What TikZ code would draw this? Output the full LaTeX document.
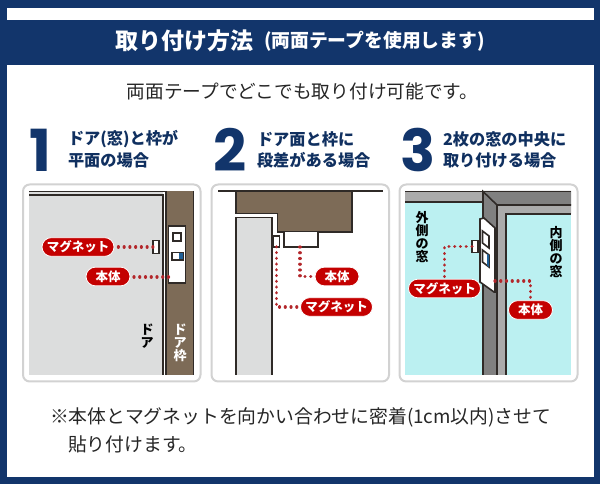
\documentclass[tikz,border=0pt]{standalone}
\usepackage{fontspec}
\setmainfont{Noto Sans CJK JP}
\newfontfamily\numf{Poppins}[BoldFont=Poppins Bold]
\usetikzlibrary{shapes.misc}
\definecolor{navy}{HTML}{12356B}
\definecolor{redpill}{HTML}{C40000}
\definecolor{brownf}{HTML}{7D6B57}
\definecolor{doorgray}{HTML}{DCDDDD}
\definecolor{ink}{HTML}{2F2A27}
\definecolor{cyanw}{HTML}{BBF0F1}
\definecolor{cardline}{HTML}{D2D2D2}
\definecolor{dotred}{HTML}{B3262A}
\definecolor{blueb}{HTML}{1F5F96}
\newcommand{\pxfont}[1]{\fontsize{\dimexpr #1pt*3/4\relax}{\dimexpr #1pt*9/10\relax}\selectfont}
\tikzset{
  card/.style={draw=cardline,line width=1.5pt,fill=white,rounded corners=5pt},
  pill/.style={rounded rectangle,fill=redpill,draw=white,line width=0.6pt,text=white,inner sep=0pt,minimum height=14pt,font=\pxfont{12.5}\bfseries},
  dots/.style={draw=dotred,line width=2.4pt,line cap=round,dash pattern=on 0.01pt off 4.3pt},
  ln/.style={draw=ink,line width=1.2pt},
  plain/.style={inner sep=0pt,outer sep=0pt},
  numb/.style={plain,font=\numf\bfseries\pxfont{58},text=navy},
  head/.style={plain,anchor=west,font=\pxfont{16.2}\bfseries,text=navy!90!black},
  vert/.style={plain,align=center,font=\fontsize{9.75pt}{9.8pt}\selectfont\bfseries},
  body/.style={plain,anchor=west,font=\pxfont{18.8},text=black!85}
}
\begin{document}
\begin{tikzpicture}[x=0.75pt,y=-0.75pt]
\useasboundingbox (0,0) rectangle (600,484);
\fill[navy] (0,0) rectangle (600,484);
\fill[white] (6.5,8) rectangle (593.5,20);
\fill[white] (6.5,65) rectangle (593.5,477);
\node[plain,text=white,anchor=west] (title) at (115,41) {\pxfont{23}\bfseries 取り付け方法};
\node[plain,text=white,anchor=west] (titlesub) at (264,41) {\pxfont{18.8}\bfseries (両面テープを使用します)};
\node[plain,text=black!85] (lead) at (302.5,91) {\pxfont{18.7}両面テープでどこでも取り付け可能です。};

\node[numb] (n1) at (40,150) {1};
\node[numb] (n2) at (230,150) {2};
\node[numb] (n3) at (418,150) {3};
\node[head] (h1a) at (68,139) {ドア(窓)と枠が};
\node[head] (h1b) at (68,160) {平面の場合};
\node[head] (h2a) at (257,139) {ドア面と枠に};
\node[head] (h2b) at (257,160) {段差がある場合};
\node[head] (h3a) at (443,139) {2枚の窓の中央に};
\node[head] (h3b) at (443,160) {取り付ける場合};

\draw[card] (23,184.5) rectangle (200.5,381.5);
\draw[card] (211.5,184.5) rectangle (389,381.5);
\draw[card] (399.5,184.5) rectangle (577.5,381.5);

% panel 1
\fill[doorgray] (29,191) rectangle (163,375);
\draw[ln] (29,191.5) -- (166,191.5) -- (166,375);
\draw[ln] (29,195) -- (163,195) -- (163,375);
\fill[brownf] (167,191) rectangle (194,375);
\draw[ln] (193.5,191) -- (193.5,375);
\node[plain,draw=ink,line width=1.1pt,fill=white,minimum width=12.5pt,minimum height=43pt] (b1) at (177,254.5) {};
\draw[ln,fill=white] (173,233) rectangle (181,241);
\draw[ln,fill=white] (172,252.5) rectangle (183,260);
\fill[blueb] (179,253) rectangle (182.5,259.5);
\node[plain,draw=ink,line width=1.1pt,fill=white,minimum width=4.6pt,minimum height=9.5pt] (m1) at (156,247) {};
\node[pill,minimum width=54pt] (p1m) at (78,247) {マグネット};
\node[pill,minimum width=33pt] (p1b) at (108,276.5) {本体};
\coordinate (c1) at (169,277);
\coordinate (c1s) at (134,277);
\draw[dots] (p1m.east) ++(4,0) -- (m1.west);
\draw[dots] (c1s) -- (c1);
\node[vert] (t1) at (147,336) {ド\\ア};
\node[vert,text=white] (t2) at (180,343) {ド\\ア\\枠};

% panel 2
\draw[ln] (218,191) -- (383,191);
\draw[ln,fill=brownf] (236,191) -- (352,191) -- (352,232) -- (277.5,232) -- (277.5,213.5) -- (236,213.5) -- cycle;
\fill[doorgray] (236,217.5) rectangle (272,375);
\draw[ln] (236,375) -- (236,217.5) -- (272,217.5) -- (272,375);
\node[plain,draw=ink,line width=1.1pt,fill=white,minimum width=4.6pt,minimum height=8pt] (m2) at (276.5,241.5) {};
\draw[ln,fill=white] (284,232) -- (284,247) -- (318,247) -- (318,232);
\coordinate (b2) at (300,247);
\node[pill,minimum width=33pt] (p2b) at (337,276.5) {本体};
\node[pill,minimum width=54pt] (p2m) at (336.5,307) {マグネット};
\draw[dots] (b2) |- (p2b.west);
\draw[dots] (m2.south) |- (p2m.west);

% panel 3
\fill[cyanw] (405,191) rectangle (571,375);
\fill[black!33] (405,191) rectangle (483,202);
\draw[ln] (405,191.5) -- (483,191.5);
\draw[ln] (405,202) -- (483,202);
\fill[black!50] (483,191) -- (571,191) -- (571,205) -- (497,205) -- (497,375) -- (483,375) -- cycle;
\fill[black!33] (497,205) -- (571,205) -- (571,214) -- (506,214) -- (506,375) -- (497,375) -- cycle;
\draw[ln] (483,191.5) -- (571,191.5);
\draw[ln] (483,375) -- (483,191.5) -- (497,205) -- (571,205);
\draw[ln] (497,205) -- (497,375);
\draw[ln] (506,375) -- (506,214) -- (571,214);
\draw[ln,fill=white] (480,219) -- (484,218) -- (495,228) -- (495,292) -- (494,292) -- (480,282) -- cycle;
\draw[ln,fill=white] (482.5,231) -- (489,236) -- (489,248) -- (482.5,243) -- cycle;
\draw[ln,fill=white] (482.5,250) -- (489,255) -- (489,267) -- (482.5,262) -- cycle;
\fill[blueb] (487,254) -- (489,255) -- (489,267) -- (487,265.5) -- cycle;
\node[plain,draw=ink,line width=1.1pt,fill=white,minimum width=4.6pt,minimum height=9pt] (m3) at (475,246.5) {};
\coordinate (b3) at (495,281);
\node[pill,minimum width=54pt] (p3m) at (444.5,288.5) {マグネット};
\node[pill,minimum width=33pt] (p3b) at (530.5,310) {本体};
\draw[dots] (m3.west) -| (p3m.north);
\draw[dots] (b3) -| (p3b.north);
\node[vert] (t3) at (422,237) {外\\側\\の\\窓};
\node[vert] (t4) at (556,252) {内\\側\\の\\窓};

% bottom
\node[body] (f1) at (50,417) {※本体とマグネットを向かい合わせに密着(1cm以内)させて};
\node[body] (f2) at (68,444) {貼り付けます。};
\end{tikzpicture}
\end{document}
